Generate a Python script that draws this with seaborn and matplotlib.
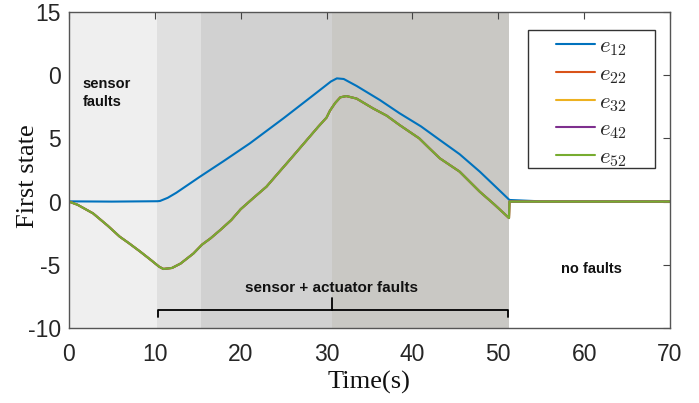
import numpy as np
import pandas as pd
import matplotlib
matplotlib.use("Agg")
import matplotlib.pyplot as plt
from matplotlib.patches import Rectangle
import seaborn as sns

# ---- data ----
t_blue = [0, 5, 10.3, 10.6, 11.5, 12.5, 13.8, 15.25, 18, 21.07, 25, 28.8, 30.5, 31.2, 32,
          33.5, 36.2, 38.5, 41, 43.2, 45.5, 47.85, 49.5, 51.3, 55, 70]
e12 = [0.02, 0.0, 0.03, 0.05, 0.3, 0.7, 1.3, 1.97, 3.2, 4.61, 6.6, 8.6, 9.5, 9.75, 9.7,
       9.15, 8.04, 6.99, 5.95, 4.87, 3.75, 2.37, 1.3, 0.13, 0.02, 0.02]

t_green = [0, 1, 2.8, 4.5, 5.9, 7, 8.3, 9.5, 10.5, 11.0, 12, 13, 14.5, 15.5, 16.5, 17.7,
           18.9, 20, 21.5, 23.0, 24.3, 25.7, 27.7, 29, 30.0, 30.4, 31.0, 31.6, 32.3, 33.5,
           35.4, 37, 38.5, 40.8, 42, 43.2, 45.5, 47.85, 49.5, 51.25, 51.3, 55, 70]
e_other = [0, -0.25, -0.93, -1.9, -2.77, -3.3, -3.96, -4.6, -5.15, -5.33, -5.25, -4.9, -4.1,
           -3.4, -2.9, -2.2, -1.46, -0.6, 0.3, 1.18, 2.2, 3.29, 4.87, 5.9, 6.65, 7.2, 7.8,
           8.25, 8.35, 8.15, 7.38, 6.8, 6.06, 5.0, 4.2, 3.42, 2.37, 0.78, -0.2, -1.3, 0, 0, 0]

series_names = ["$e_{12}$", "$e_{22}$", "$e_{32}$", "$e_{42}$", "$e_{52}$"]
series_colors = ["#0072BD", "#D95319", "#EDB120", "#7E2F8E", "#77AC30"]

phase_bounds = [0, 10.2, 15.35, 30.6, 51.3]
phase_colors = ["#efefef", "#e0e0e0", "#d1d1d1", "#c9c8c4"]

x_ticks = [0, 10, 20, 30, 40, 50, 60, 70]
y_ticks = [-10, -5, 0, 5, 10, 15]
y_tick_labels = ["-10", "-5", "0", "5", "0", "15"]

# ---- plotting ----
sns.set_theme(style="white")
plt.rcParams["mathtext.fontset"] = "cm"

fig = plt.figure(figsize=(6.99, 4.03), dpi=100)
ax = fig.add_axes([0.0987, 0.1861, 0.8598, 0.7841])

for i in range(len(phase_colors)):
    ax.axvspan(phase_bounds[i], phase_bounds[i + 1], color=phase_colors[i], lw=0, zorder=0)

df_blue = pd.DataFrame({"t": t_blue, "v": e12})
sns.lineplot(data=df_blue, x="t", y="v", ax=ax, color=series_colors[0], lw=1.5,
             label=series_names[0], estimator=None, sort=False)
df_g = pd.DataFrame({"t": t_green, "v": e_other})
for name, col in zip(series_names[1:], series_colors[1:]):
    sns.lineplot(data=df_g, x="t", y="v", ax=ax, color=col, lw=1.5, label=name,
                 estimator=None, sort=False)

ax.set_xlim(0, 70)
ax.set_ylim(-10, 15)
ax.set_xticks(x_ticks)
ax.set_yticks(y_ticks)
ax.set_yticklabels(y_tick_labels)
ax.tick_params(axis="both", which="both", direction="in", length=5, width=0.8,
               color="#444444", top=True, right=True, labelsize=16.5,
               labelcolor="#262626")
ax.tick_params(axis="x", pad=11)
ax.tick_params(axis="y", pad=6)
for lab in ax.get_xticklabels() + ax.get_yticklabels():
    lab.set_family("Liberation Sans")
for s in ax.spines.values():
    s.set_color("#555555")
    s.set_linewidth(1.0)

ax.set_xlabel("Time(s)", family="Liberation Serif", fontsize=19, color="#111111", labelpad=3)
ax.set_ylabel("First state", family="Liberation Serif", fontsize=19, color="#111111")
ax.yaxis.set_label_coords(-0.05, 0.48)

# annotations
ax.text(1.6, 8.6, "sensor\nfaults", family="Liberation Sans", fontweight="bold",
        fontsize=10.5, va="center", ha="left", color="#111111", linespacing=1.35)
ax.text(30.6, -6.8, "sensor + actuator faults", family="Liberation Sans", fontweight="bold",
        fontsize=11, va="center", ha="center", color="#111111")
ax.text(60.9, -5.3, "no faults", family="Liberation Sans", fontweight="bold",
        fontsize=10.5, va="center", ha="center", color="#111111")

# bracket
bx0, bx1, bmid = 10.4, 51.1, 30.6
by, bend, btop = -8.55, -9.15, -7.6
ax.plot([bx0, bx0, bx1, bx1], [bend, by, by, bend], color="black", lw=1.3,
        solid_joinstyle="round", zorder=3)
ax.plot([bmid, bmid], [by, btop], color="black", lw=1.3, zorder=3)

# legend box (MATLAB-like wide frame)
lx0, lx1, ly0, ly1 = 0.7637, 0.975, 0.506, 0.943
ax.add_patch(Rectangle((lx0, ly0), lx1 - lx0, ly1 - ly0, transform=ax.transAxes,
                       facecolor="white", edgecolor="#333333", lw=1.0, zorder=4))
leg = ax.legend(loc="center", bbox_to_anchor=((lx0 + lx1) / 2, (ly0 + ly1) / 2 - 0.008),
                fontsize=16.5, frameon=False, handlelength=1.7, handletextpad=0.15,
                borderpad=0.0, labelspacing=0.16, borderaxespad=0)
leg.set_zorder(5)

fig.savefig("out.png", dpi=100)
